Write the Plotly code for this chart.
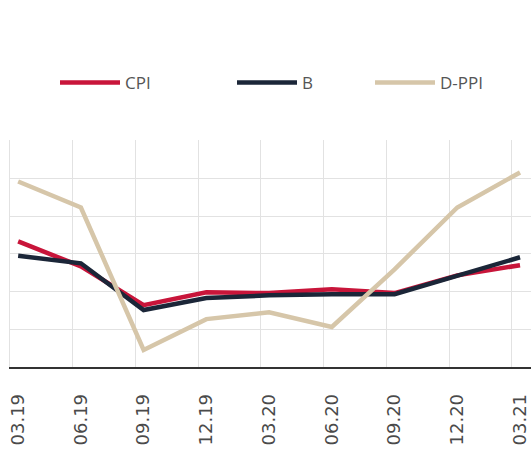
import plotly.graph_objects as go

# Quarter labels along the x axis
quarters = ["03.19", "06.19", "09.19", "12.19", "03.20", "06.20", "09.20", "12.20", "03.21"]

# Series values per quarter
cpi = [3.33, 2.67, 1.64, 1.98, 1.96, 2.06, 1.96, 2.43, 2.70]
b_series = [2.95, 2.75, 1.51, 1.83, 1.90, 1.93, 1.93, 2.43, 2.91]
d_ppi = [4.92, 4.23, 0.45, 1.27, 1.45, 1.06, 2.59, 4.23, 5.16]

x_idx = list(range(len(quarters)))

series = [
    ("CPI", cpi, "#c8153a", "legend"),
    ("B", b_series, "#1b2638", "legend2"),
    ("D-PPI", d_ppi, "#d6c6a9", "legend3"),
]

fig = go.Figure()
for name, vals, color, leg in series:
    fig.add_trace(go.Scatter(
        x=x_idx, y=vals, name=name, mode="lines",
        line=dict(color=color, width=4.5),
        legend=leg, showlegend=True,
    ))

legend_style = dict(
    orientation="h", xanchor="left", yanchor="middle",
    bgcolor="rgba(0,0,0,0)", borderwidth=0,
    font=dict(family="Open Sans", size=17, color="#555555"),
    itemwidth=60,
)
legend_y = (367 - 83) / 227

fig.update_layout(
    width=531, height=453,
    showlegend=True,
    margin=dict(l=10, r=0, t=140, b=86),
    paper_bgcolor="white", plot_bgcolor="white",
    legend=dict(x=(55 - 10) / 521, y=legend_y, **legend_style),
    legend2=dict(x=(232 - 10) / 521, y=legend_y, **legend_style),
    legend3=dict(x=(370 - 10) / 521, y=legend_y, **legend_style),
    xaxis=dict(
        range=[-0.13, 8.175],
        tickmode="array", tickvals=x_idx, ticktext=quarters,
        tickangle=-90,
        tickfont=dict(family="DejaVu Sans", size=18, color="#4a4a4a"),
        showgrid=False, zeroline=False,
        showline=True, linecolor="#333333", linewidth=1.5,
        ticks="", ticklabelstandoff=18,
        minor=dict(tickmode="linear", tick0=-0.13, dtick=1,
                   showgrid=True, gridcolor="#e2e2e2", gridwidth=1),
    ),
    yaxis=dict(
        range=[0, 6.02], tickmode="linear", tick0=0, dtick=1,
        showgrid=True, gridcolor="#e2e2e2", gridwidth=1,
        showline=True, linecolor="#e2e2e2", linewidth=1,
        zeroline=False, showticklabels=False, ticks="",
    ),
)

fig.write_html("out.html")
